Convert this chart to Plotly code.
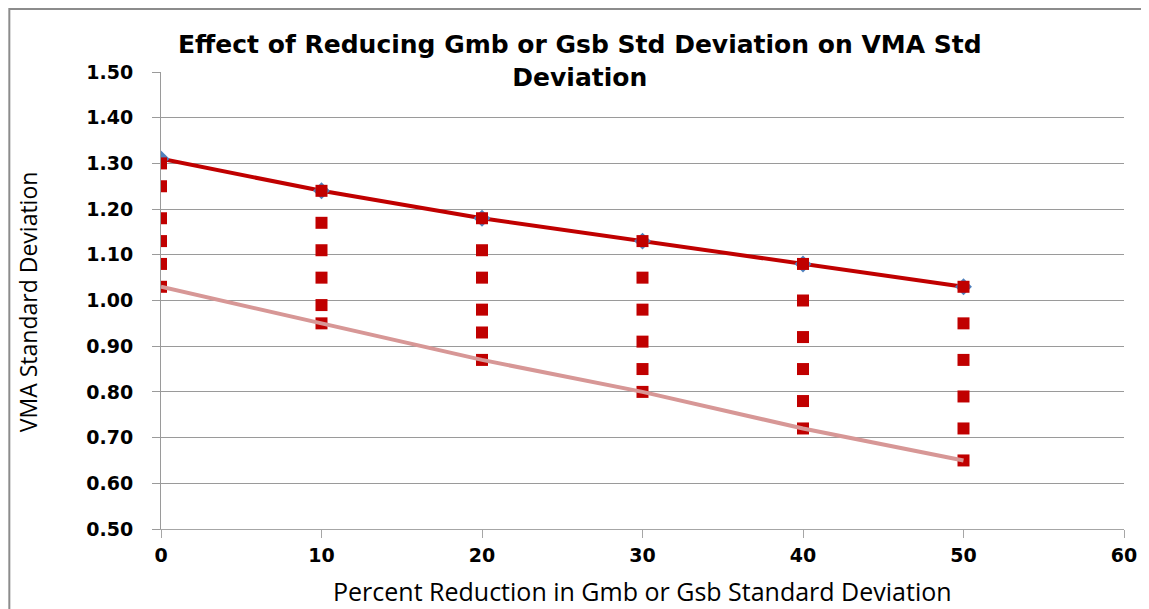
import plotly.graph_objects as go

x_pct = [0, 10, 20, 30, 40, 50]
vma_sd = [1.31, 1.24, 1.18, 1.13, 1.08, 1.03]
row0 = [1.30, 1.24, 1.18, 1.13, 1.08, 1.03]
row1 = [1.25, 1.17, 1.11, 1.05, 1.00, 0.95]
row2 = [1.18, 1.11, 1.05, 0.98, 0.92, 0.87]
row3 = [1.13, 1.05, 0.98, 0.91, 0.85, 0.79]
row4 = [1.08, 0.99, 0.93, 0.85, 0.78, 0.72]
row5 = [1.03, 0.95, 0.87, 0.80, 0.72, 0.65]
y_ticks = [0.5, 0.6, 0.7, 0.8, 0.9, 1.0, 1.1, 1.2, 1.3, 1.4, 1.5]
x_ticks = [0, 10, 20, 30, 40, 50, 60]

RED = "#C00000"
PINK = "#D79796"
BLUE = "#4F81BD"

fig = go.Figure()
fig.add_trace(go.Scatter(x=x_pct, y=vma_sd, mode="lines", line=dict(color=RED, width=4), showlegend=False))
fig.add_trace(go.Scatter(x=x_pct, y=vma_sd, mode="markers",
                         marker=dict(symbol="diamond", size=13, color=BLUE), showlegend=False))
for r in [row0, row1, row2, row3, row4, row5]:
    fig.add_trace(go.Scatter(x=x_pct, y=r, mode="markers",
                             marker=dict(symbol="square", size=12, color=RED), showlegend=False))
fig.add_trace(go.Scatter(x=x_pct, y=row5, mode="lines", line=dict(color=PINK, width=4), showlegend=False))

tickfont = dict(family="DejaVu Sans", size=19, color="#000000")
fig.update_layout(
    width=1141, height=601,
    margin=dict(l=153, r=23, t=64, b=80),
    paper_bgcolor="white", plot_bgcolor="white",
    font=dict(family="DejaVu Sans", color="black"),
    xaxis=dict(range=[0, 60], tickvals=x_ticks, ticktext=[f"<b>{v}</b>" for v in x_ticks],
               showgrid=False, zeroline=False, showline=True, linecolor="#a6a6a6", linewidth=1,
               ticks="outside", ticklen=8, tickcolor="#a6a6a6", tickfont=tickfont,
               ticklabelstandoff=1),
    yaxis=dict(range=[0.5, 1.5], tickvals=y_ticks, ticktext=[f"<b>{v:.2f}</b>" for v in y_ticks],
               showgrid=True, gridcolor="#9a9a9a", gridwidth=1, zeroline=False,
               showline=True, linecolor="#9a9a9a", linewidth=1,
               ticks="outside", ticklen=8, tickcolor="#9a9a9a", tickfont=tickfont,
               ticklabelstandoff=15),
    shapes=[dict(type="rect", xref="paper", yref="paper", x0=-0.1575, x1=1.2, y0=-0.4, y1=1.1379,
                 line=dict(color="#8c8c8c", width=2), fillcolor="rgba(0,0,0,0)", layer="below")],
    annotations=[
        dict(text="<b>Effect of Reducing Gmb or Gsb Std Deviation on VMA Std<br>Deviation</b>",
             xref="paper", yref="paper", x=0.435, y=1.024, xanchor="center", yanchor="middle",
             showarrow=False, font=dict(family="DejaVu Sans", size=25, color="black")),
        dict(text="VMA Standard Deviation", xref="paper", yref="paper", x=-0.1378, y=0.497,
             xanchor="center", yanchor="middle", textangle=-90, showarrow=False,
             font=dict(family="Open Sans", size=23, color="black")),
        dict(text="Percent Reduction in Gmb or Gsb Standard Deviation", xref="paper", yref="paper",
             x=0.4995, y=-0.1357, xanchor="center", yanchor="middle", showarrow=False,
             font=dict(family="Open Sans", size=25, color="black")),
    ],
)
fig.write_html("out.html")
